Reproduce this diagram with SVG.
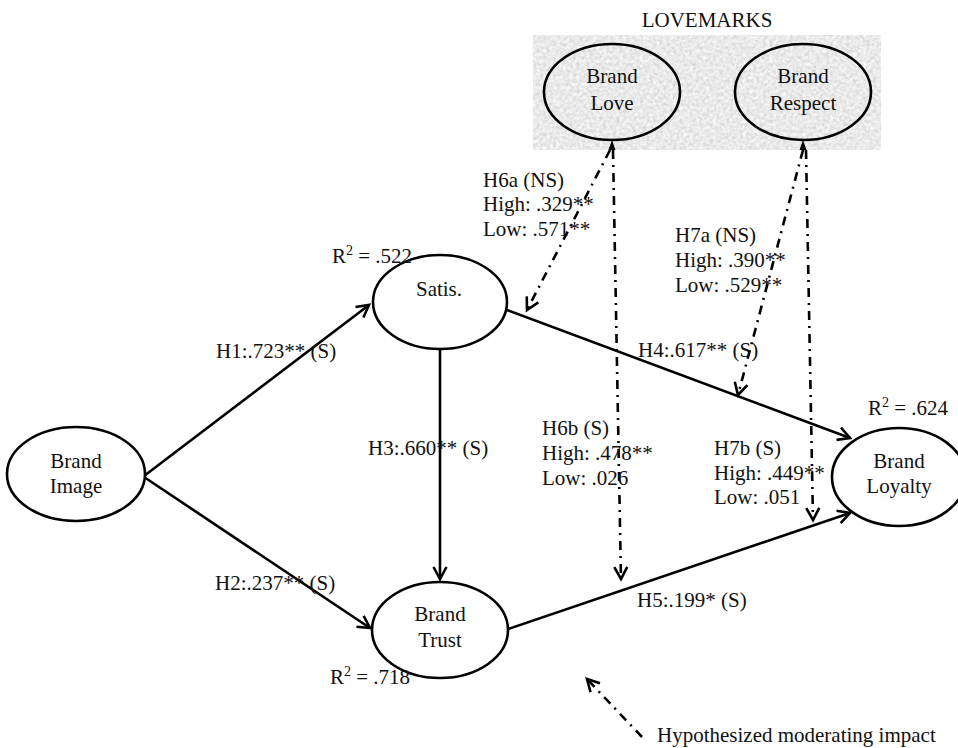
<svg xmlns="http://www.w3.org/2000/svg" width="958" height="748" viewBox="0 0 958 748">
<style>
text{font-family:"Liberation Serif","Times New Roman",serif;font-size:21px;fill:#111}
.c{text-anchor:middle}
.node{fill:#fff;stroke:#000;stroke-width:2.6}
.lm{fill:none;stroke:#000;stroke-width:2.6}
.solid{fill:none;stroke:#000;stroke-width:2.6;marker-end:url(#ah)}
.dash{fill:none;stroke:#000;stroke-width:2.6;stroke-dasharray:9 6 2 6;marker-end:url(#ah)}
</style>
<defs>
<marker id="ah" markerUnits="userSpaceOnUse" markerWidth="18" markerHeight="18" refX="14" refY="8" orient="auto">
<path d="M2,1.5 L14,8 L2,14.5" fill="none" stroke="#000" stroke-width="2.6"/>
</marker>
<filter id="grain" x="0" y="0" width="1" height="1">
<feTurbulence type="fractalNoise" baseFrequency="0.3" numOctaves="3" seed="4"/>
<feColorMatrix type="saturate" values="0"/>
<feComponentTransfer>
<feFuncR type="linear" slope="0.6" intercept="0.52"/>
<feFuncG type="linear" slope="0.6" intercept="0.52"/>
<feFuncB type="linear" slope="0.6" intercept="0.52"/>
<feFuncA type="linear" slope="0" intercept="1"/>
</feComponentTransfer>
</filter>
</defs>

<g id="lovemarks-panel">
<rect x="533" y="35" width="348" height="115" fill="#dadada" filter="url(#grain)"/>
<text x="707" y="27" class="c">LOVEMARKS</text>
</g>

<g id="brand-love">
<ellipse cx="612" cy="92" rx="68" ry="48" class="lm"/>
<text x="612" y="83" class="c">Brand</text>
<text x="612" y="110" class="c">Love</text>
</g>
<g id="brand-respect">
<ellipse cx="803" cy="92" rx="68" ry="48" class="lm"/>
<text x="803" y="83" class="c">Brand</text>
<text x="803" y="110" class="c">Respect</text>
</g>

<g id="connectors">
<path class="solid" d="M144,476 L369,305"/>
<path class="solid" d="M144,477 L370,628"/>
<path class="solid" d="M440,349 L440,579"/>
<path class="solid" d="M507,310 L850,438"/>
<path class="solid" d="M508,629 L850,513"/>
<path class="dash" d="M610,150 L527,310"/>
<path class="dash" d="M613,150 L621,579"/>
<path class="dash" d="M803,150 L738,395"/>
<path class="dash" d="M806,150 L813,520"/>
<path class="dash" d="M642,737 L587,679"/>
<polygon points="608.5,150 612,140 615.5,150" fill="#000"/>
<polygon points="799.5,150 803,140 806.5,150" fill="#000"/>
</g>

<g id="brand-image">
<ellipse cx="76" cy="474" rx="69" ry="47" class="node"/>
<text x="76" y="468" class="c">Brand</text>
<text x="76" y="493" class="c">Image</text>
</g>
<g id="satis">
<ellipse cx="440" cy="302" rx="67" ry="47" class="node"/>
<text x="439" y="296" class="c">Satis.</text>
</g>
<g id="brand-trust">
<ellipse cx="440" cy="630" rx="68" ry="48" class="node"/>
<text x="440" y="621" class="c">Brand</text>
<text x="440" y="647" class="c">Trust</text>
</g>
<g id="brand-loyalty">
<ellipse cx="899" cy="477" rx="67" ry="49" class="node"/>
<text x="899" y="468" class="c">Brand</text>
<text x="899" y="493" class="c">Loyalty</text>
</g>

<g id="labels">
<text x="332" y="263">R<tspan font-size="14" dy="-8">2</tspan><tspan dy="8"> = .522</tspan></text>
<text x="330" y="684">R<tspan font-size="14" dy="-8">2</tspan><tspan dy="8"> = .718</tspan></text>
<text x="868" y="415">R<tspan font-size="14" dy="-8">2</tspan><tspan dy="8"> = .624</tspan></text>
<text x="216" y="358">H1:.723** (S)</text>
<text x="215" y="590">H2:.237** (S)</text>
<text x="368" y="455">H3:.660** (S)</text>
<text x="638" y="357">H4:.617** (S)</text>
<text x="637" y="607">H5:.199* (S)</text>
<text x="483" y="187">H6a (NS)</text>
<text x="483" y="211">High: .329**</text>
<text x="483" y="236">Low: .571**</text>
<text x="675" y="242">H7a (NS)</text>
<text x="675" y="267">High: .390**</text>
<text x="675" y="292">Low: .529**</text>
<text x="542" y="435">H6b (S)</text>
<text x="542" y="460">High: .478**</text>
<text x="542" y="485">Low: .026</text>
<text x="714" y="455">H7b (S)</text>
<text x="714" y="480">High: .449**</text>
<text x="714" y="504">Low: .051</text>
<text x="657" y="742">Hypothesized moderating impact</text>
</g>
</svg>
